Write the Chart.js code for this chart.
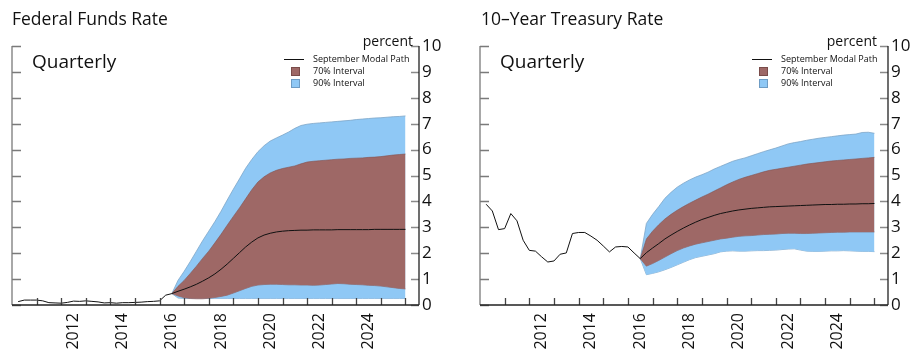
<!DOCTYPE html>
<html>
<head>
<meta charset="utf-8">
<script src="https://cdn.jsdelivr.net/npm/chart.js@4.4.1/dist/chart.umd.min.js"></script>
<style>
  body { margin: 0; background: #fff; font-family: 'Open Sans', sans-serif; color: #111; }
  .panel { position: absolute; top: 0; width: 457px; height: 353px; }
  .panel canvas { position: absolute; left: 0; top: 0; }
  .title { position: absolute; top: 10px; font-size: 17.5px; line-height: 17px; white-space: nowrap; }
  .freq { position: absolute; top: 52px; font-size: 19px; line-height: 19px; }
  .unit { position: absolute; top: 34px; font-size: 14px; line-height: 14px; }
  .legend { position: absolute; top: 53px; font-size: 9px; line-height: 12px; }
  .legend .row { position: relative; height: 12px; white-space: nowrap; }
  .legend .key { position: absolute; }
  .legend .txt { position: absolute; left: 29px; }
</style>
</head>
<body>
<div class="panel" style="left:0">
  <canvas id="ff" width="457" height="353"></canvas>
  <div class="title" style="left:12px">Federal Funds Rate</div>
  <div class="freq" style="left:32px">Quarterly</div>
  <div class="unit" style="right:44px">percent</div>
  <div class="legend" style="left:284px">
    <div class="row"><span class="key" style="left:0;top:6px;width:20px;height:1px;background:#111"></span><span class="txt">September Modal Path</span></div>
    <div class="row"><span class="key" style="left:7px;top:2px;width:7px;height:7px;background:#9e6866;border:0.5px solid #7a4c4a"></span><span class="txt">70% Interval</span></div>
    <div class="row"><span class="key" style="left:7px;top:2px;width:7px;height:7px;background:#8fc8f5;border:0.5px solid #6e9cc4"></span><span class="txt">90% Interval</span></div>
  </div>
</div>
<div class="panel" style="left:457px">
  <canvas id="ty" width="457" height="353"></canvas>
  <div class="title" style="left:24px">10–Year Treasury Rate</div>
  <div class="freq" style="left:43px">Quarterly</div>
  <div class="unit" style="right:37px">percent</div>
  <div class="legend" style="left:295px">
    <div class="row"><span class="key" style="left:0;top:6px;width:20px;height:1px;background:#111"></span><span class="txt">September Modal Path</span></div>
    <div class="row"><span class="key" style="left:7px;top:2px;width:7px;height:7px;background:#9e6866;border:0.5px solid #7a4c4a"></span><span class="txt">70% Interval</span></div>
    <div class="row"><span class="key" style="left:7px;top:2px;width:7px;height:7px;background:#8fc8f5;border:0.5px solid #6e9cc4"></span><span class="txt">90% Interval</span></div>
  </div>
</div>
<script>
// quarters are plotted at the end of each quarter (2010Q1 -> 2010.25)
var histStart = 2010.25
var projStart = 2016.5
var yearLabels = [2012, 2014, 2016, 2018, 2020, 2022, 2024]
var yearTicks = [2011, 2012, 2013, 2014, 2015, 2016, 2017, 2018, 2019, 2020, 2021, 2022, 2023, 2024, 2025, 2026]
var percentTicks = [0, 1, 2, 3, 4, 5, 6, 7, 8, 9, 10]

// Federal funds rate
var ffHist = [0.13, 0.19, 0.19, 0.19, 0.16, 0.09, 0.08, 0.07, 0.10, 0.15, 0.14, 0.16, 0.14, 0.12, 0.08, 0.09,
  0.07, 0.09, 0.09, 0.10, 0.11, 0.13, 0.14, 0.16, 0.38, 0.44]
var ffModal = [0.44, 0.53, 0.61, 0.70, 0.80, 0.92, 1.05, 1.20, 1.38, 1.58, 1.80, 2.02, 2.24, 2.43, 2.59, 2.70,
  2.77, 2.82, 2.85, 2.87, 2.88, 2.89, 2.89, 2.90, 2.90, 2.90, 2.90, 2.91, 2.91, 2.91, 2.91, 2.91, 2.91, 2.92,
  2.92, 2.92, 2.92, 2.92, 2.92]
var ff70Hi = [0.44, 0.72, 0.95, 1.22, 1.50, 1.80, 2.08, 2.40, 2.73, 3.08, 3.42, 3.75, 4.10, 4.45, 4.75, 4.95,
  5.10, 5.20, 5.27, 5.32, 5.37, 5.45, 5.52, 5.55, 5.57, 5.59, 5.61, 5.63, 5.64, 5.66, 5.67, 5.68, 5.70, 5.71,
  5.73, 5.76, 5.79, 5.81, 5.83]
var ff70Lo = [0.44, 0.35, 0.28, 0.25, 0.24, 0.24, 0.26, 0.29, 0.33, 0.38, 0.46, 0.55, 0.64, 0.72, 0.77, 0.79,
  0.80, 0.80, 0.79, 0.78, 0.78, 0.77, 0.77, 0.76, 0.77, 0.79, 0.81, 0.83, 0.82, 0.80, 0.79, 0.78, 0.76, 0.75,
  0.73, 0.70, 0.67, 0.64, 0.62]
var ff90Hi = [0.44, 0.95, 1.30, 1.68, 2.08, 2.48, 2.85, 3.22, 3.62, 4.05, 4.47, 4.87, 5.28, 5.62, 5.92, 6.15,
  6.33, 6.45, 6.56, 6.68, 6.82, 6.93, 6.98, 7.01, 7.03, 7.05, 7.07, 7.09, 7.11, 7.13, 7.16, 7.18, 7.20, 7.22,
  7.23, 7.25, 7.27, 7.28, 7.30]
var ff90Lo = [0.44, 0.27, 0.25, 0.25, 0.25, 0.25, 0.25, 0.25, 0.25, 0.25, 0.25, 0.25, 0.25, 0.25, 0.25, 0.25,
  0.25, 0.25, 0.25, 0.25, 0.25, 0.25, 0.25, 0.25, 0.25, 0.25, 0.25, 0.25, 0.25, 0.25, 0.25, 0.25, 0.25, 0.25,
  0.25, 0.25, 0.25, 0.25, 0.25]

// 10-year Treasury rate
var tyHist = [3.89, 3.63, 2.91, 2.95, 3.53, 3.25, 2.50, 2.11, 2.08, 1.86, 1.66, 1.70, 1.96, 2.01, 2.76, 2.80,
  2.80, 2.66, 2.50, 2.28, 2.05, 2.24, 2.26, 2.24, 2.01, 1.79]
var tyModal = [1.79, 2.02, 2.20, 2.37, 2.55, 2.70, 2.84, 2.97, 3.09, 3.20, 3.30, 3.38, 3.46, 3.53, 3.58, 3.63,
  3.67, 3.70, 3.73, 3.75, 3.77, 3.79, 3.80, 3.81, 3.82, 3.83, 3.84, 3.85, 3.86, 3.87, 3.88, 3.88, 3.89, 3.89,
  3.90, 3.90, 3.91, 3.91, 3.92]
var ty70Hi = [1.79, 2.55, 2.85, 3.10, 3.32, 3.50, 3.66, 3.80, 3.93, 4.05, 4.17, 4.28, 4.40, 4.52, 4.64, 4.75,
  4.85, 4.93, 5.00, 5.07, 5.14, 5.20, 5.24, 5.28, 5.32, 5.36, 5.40, 5.44, 5.47, 5.50, 5.53, 5.56, 5.58, 5.60,
  5.62, 5.64, 5.66, 5.68, 5.70]
var ty70Lo = [1.79, 1.50, 1.60, 1.72, 1.85, 1.98, 2.10, 2.20, 2.28, 2.35, 2.40, 2.45, 2.50, 2.55, 2.58, 2.62,
  2.65, 2.67, 2.68, 2.70, 2.72, 2.73, 2.74, 2.76, 2.77, 2.77, 2.76, 2.76, 2.77, 2.78, 2.79, 2.80, 2.81, 2.81,
  2.82, 2.82, 2.82, 2.82, 2.82]
var ty90Hi = [1.79, 3.15, 3.50, 3.80, 4.12, 4.35, 4.55, 4.70, 4.83, 4.94, 5.03, 5.13, 5.25, 5.35, 5.45, 5.55,
  5.62, 5.68, 5.76, 5.84, 5.92, 5.99, 6.06, 6.14, 6.22, 6.27, 6.31, 6.36, 6.40, 6.44, 6.47, 6.50, 6.53, 6.56,
  6.58, 6.60, 6.66, 6.67, 6.63]
var ty90Lo = [1.79, 1.17, 1.22, 1.28, 1.36, 1.45, 1.55, 1.65, 1.75, 1.83, 1.88, 1.93, 1.98, 2.05, 2.08, 2.09,
  2.08, 2.08, 2.09, 2.10, 2.10, 2.11, 2.12, 2.14, 2.16, 2.17, 2.12, 2.08, 2.07, 2.07, 2.08, 2.09, 2.09, 2.10,
  2.09, 2.08, 2.07, 2.07, 2.06]

var red = '#9e6866'
var blue = '#8fc8f5'

function toPoints(start, vals) {
  return vals.map(function (v, i) { return { x: start + i * 0.25, y: v } })
}

// axis lines and inward tick marks, like the original
var frame = {
  id: 'frame',
  afterDatasetsDraw: function (chart) {
    var ctx = chart.ctx
    var a = chart.chartArea
    var xs = chart.scales.x
    var ys = chart.scales.y
    ctx.save()
    ctx.lineWidth = 1.3
    ctx.strokeStyle = '#7a7a7a'
    ctx.beginPath()
    ctx.moveTo(a.left, a.top)
    ctx.lineTo(a.left, a.bottom)
    percentTicks.forEach(function (v) {
      var y = Math.round(ys.getPixelForValue(v)) + 0.5
      ctx.moveTo(a.left, y)
      ctx.lineTo(a.left + 9, y)
    })
    ctx.stroke()
    ctx.strokeStyle = '#8a8a8a'
    ctx.beginPath()
    percentTicks.forEach(function (v) {
      var y = Math.round(ys.getPixelForValue(v)) + 0.5
      ctx.moveTo(a.right - 8, y)
      ctx.lineTo(a.right, y)
    })
    ctx.stroke()
    ctx.strokeStyle = '#444'
    ctx.beginPath()
    yearTicks.forEach(function (yr) {
      var x = Math.round(xs.getPixelForValue(yr)) + 0.5
      ctx.moveTo(x, a.bottom)
      ctx.lineTo(x, a.bottom - 7)
    })
    ctx.stroke()
    ctx.strokeStyle = '#222'
    ctx.beginPath()
    ctx.moveTo(a.right, a.top)
    ctx.lineTo(a.right, a.bottom)
    ctx.moveTo(a.left, a.bottom)
    ctx.lineTo(a.right, a.bottom)
    ctx.stroke()
    ctx.restore()
  }
}

function makePanel(id, padLeft, yWidth, hist, modal, hi70, lo70, hi90, lo90) {
  var lineStyle = { borderColor: '#111', borderWidth: 1, pointRadius: 0, fill: false }
  new Chart(document.getElementById(id).getContext('2d'), {
    type: 'line',
    data: {
      datasets: [
        Object.assign({ data: toPoints(histStart, hist) }, lineStyle),
        Object.assign({ data: toPoints(projStart, modal) }, lineStyle),
        { data: toPoints(projStart, hi70), borderColor: '#85504e', borderWidth: 0.6, pointRadius: 0, backgroundColor: red, fill: '+1' },
        { data: toPoints(projStart, lo70), borderColor: '#85504e', borderWidth: 0.6, pointRadius: 0, fill: false },
        { data: toPoints(projStart, hi90), borderColor: '#7ea6c8', borderWidth: 0.8, pointRadius: 0, backgroundColor: blue, fill: '+1' },
        { data: toPoints(projStart, lo90), borderColor: '#7ea6c8', borderWidth: 0.8, pointRadius: 0, fill: false }
      ]
    },
    options: {
      responsive: false,
      animation: false,
      layout: { padding: { left: padLeft, top: 46, right: 0, bottom: 0 } },
      plugins: { legend: { display: false }, tooltip: { enabled: false } },
      scales: {
        x: {
          type: 'linear',
          min: 2010,
          max: 2026.55,
          grid: { display: false, drawTicks: false },
          border: { display: false },
          afterBuildTicks: function (s) {
            s.ticks = yearLabels.map(function (yr) { return { value: yr + 0.5 } })
          },
          afterFit: function (s) { s.height = 48 },
          ticks: {
            autoSkip: false,
            minRotation: 90,
            maxRotation: 90,
            padding: 8,
            color: '#111',
            font: { family: 'Open Sans', size: 16 },
            callback: function (v) { return String(Math.floor(v)) }
          }
        },
        y: {
          position: 'right',
          min: 0,
          max: 10,
          grid: { display: false, drawTicks: false },
          border: { display: false },
          afterFit: function (s) { s.width = yWidth },
          ticks: {
            stepSize: 1,
            padding: 3,
            color: '#111',
            font: { family: 'Open Sans', size: 17 }
          }
        }
      }
    },
    plugins: [frame]
  })
}

makePanel('ff', 12, 38, ffHist, ffModal, ff70Hi, ff70Lo, ff90Hi, ff90Lo)
makePanel('ty', 23, 26, tyHist, tyModal, ty70Hi, ty70Lo, ty90Hi, ty90Lo)
</script>
</body>
</html>
